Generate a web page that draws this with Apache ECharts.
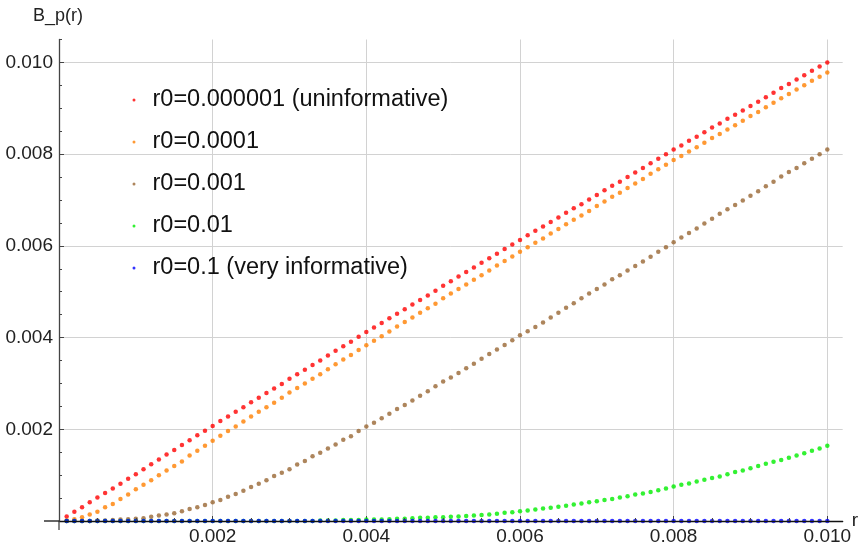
<!DOCTYPE html>
<html>
<head>
<meta charset="utf-8">
<script src="https://cdn.jsdelivr.net/npm/echarts@6/dist/echarts.min.js"></script>
<style>html,body{margin:0;padding:0;background:#fff}#c{width:861px;height:546px}</style>
</head>
<body>
<div id="c"></div>
<script>
const seriesNames = ['r0=0.000001 (uninformative)', 'r0=0.0001', 'r0=0.001', 'r0=0.01', 'r0=0.1 (very informative)'];
const xTickLabels = [0.002, 0.004, 0.006, 0.008, 0.010];
const yTickLabels = [0.002, 0.004, 0.006, 0.008, 0.010];
const xMinorTicks = [0.0005,0.001,0.0015,0.0025,0.003,0.0035,0.0045,0.005,0.0055,0.0065,0.007,0.0075,0.0085,0.009,0.0095];
const yMinorTicks = [0.0005,0.001,0.0015,0.0025,0.003,0.0035,0.0045,0.005,0.0055,0.0065,0.007,0.0075,0.0085,0.009,0.0095,0.0105];

const rValues = [
0.0001,0.0002,0.0003,0.0004,0.0005,0.0006,0.0007,0.0008,0.0009,0.0010,
0.0011,0.0012,0.0013,0.0014,0.0015,0.0016,0.0017,0.0018,0.0019,0.0020,
0.0021,0.0022,0.0023,0.0024,0.0025,0.0026,0.0027,0.0028,0.0029,0.0030,
0.0031,0.0032,0.0033,0.0034,0.0035,0.0036,0.0037,0.0038,0.0039,0.0040,
0.0041,0.0042,0.0043,0.0044,0.0045,0.0046,0.0047,0.0048,0.0049,0.0050,
0.0051,0.0052,0.0053,0.0054,0.0055,0.0056,0.0057,0.0058,0.0059,0.0060,
0.0061,0.0062,0.0063,0.0064,0.0065,0.0066,0.0067,0.0068,0.0069,0.0070,
0.0071,0.0072,0.0073,0.0074,0.0075,0.0076,0.0077,0.0078,0.0079,0.0080,
0.0081,0.0082,0.0083,0.0084,0.0085,0.0086,0.0087,0.0088,0.0089,0.0090,
0.0091,0.0092,0.0093,0.0094,0.0095,0.0096,0.0097,0.0098,0.0099,0.0100];

const redValues = [
0.0001,0.0002,0.0003,0.00041,0.00051,0.00061,0.00071,0.00081,0.00092,0.00102,
0.00113,0.00124,0.00134,0.00145,0.00155,0.00166,0.00176,0.00187,0.00197,0.00207,
0.00218,0.00228,0.00238,0.00248,0.00259,0.00269,0.00279,0.00289,0.00299,0.0031,
0.0032,0.0033,0.0034,0.0035,0.00361,0.00371,0.00381,0.00391,0.00402,0.00412,
0.00422,0.00432,0.00442,0.00452,0.00462,0.00472,0.00482,0.00492,0.00502,0.00513,
0.00523,0.00533,0.00543,0.00553,0.00563,0.00573,0.00583,0.00593,0.00603,0.00613,
0.00623,0.00633,0.00642,0.00652,0.00662,0.00672,0.00682,0.00691,0.00701,0.00711,
0.00721,0.00731,0.0074,0.0075,0.0076,0.0077,0.0078,0.0079,0.008,0.0081,
0.00819,0.00829,0.00838,0.00848,0.00858,0.00867,0.00877,0.00886,0.00895,0.00905,
0.00914,0.00924,0.00934,0.00944,0.00953,0.00963,0.00972,0.00982,0.00991,0.01];

const orangeValues = [
0.00001,0.00004,0.00008,0.00014,0.0002,0.0003,0.00037,0.00048,0.00058,0.00069,
0.00079,0.00089,0.001,0.0011,0.0012,0.0013,0.00143,0.00153,0.00164,0.00175,
0.00186,0.00196,0.00206,0.00217,0.00228,0.00238,0.00248,0.00258,0.00269,0.0028,
0.0029,0.003,0.0031,0.0032,0.00331,0.00342,0.00352,0.00362,0.00373,0.00383,
0.00393,0.00403,0.00413,0.00424,0.00434,0.00444,0.00454,0.00464,0.00474,0.00486,
0.00496,0.00506,0.00516,0.00526,0.00536,0.00546,0.00557,0.00567,0.00577,0.00587,
0.00597,0.00607,0.00616,0.00627,0.00637,0.00647,0.00657,0.00666,0.00676,0.00687,
0.00697,0.00707,0.00716,0.00726,0.00736,0.00746,0.00757,0.00767,0.00777,0.00787,
0.00796,0.00806,0.00815,0.00825,0.00835,0.00844,0.00854,0.00863,0.00873,0.00883,
0.00892,0.00902,0.00912,0.00922,0.00931,0.00941,0.0095,0.0096,0.00969,0.00978];

const brownValues = [
0,0,0,0,0.00001,0.00001,0.00002,0.00003,0.00004,0.00005,
0.00006,0.00009,0.00012,0.00014,0.00017,0.00021,0.00026,0.0003,0.00035,0.00041,
0.00046,0.00053,0.00059,0.00066,0.00074,0.00081,0.00089,0.00098,0.00105,0.00113,
0.00123,0.00131,0.00141,0.00149,0.00158,0.00167,0.00177,0.00185,0.00196,0.00206,
0.00214,0.00224,0.00234,0.00244,0.00253,0.00263,0.00273,0.00283,0.00294,0.00304,
0.00313,0.00323,0.00333,0.00343,0.00354,0.00364,0.00374,0.00384,0.00394,0.00405,
0.00414,0.00423,0.00433,0.00444,0.00454,0.00465,0.00475,0.00486,0.00496,0.00506,
0.00516,0.00527,0.00536,0.00546,0.00556,0.00566,0.00576,0.00587,0.00597,0.00608,
0.00618,0.00628,0.00638,0.00649,0.00659,0.0067,0.0068,0.00689,0.00699,0.00709,
0.00719,0.0073,0.0074,0.00751,0.00761,0.0077,0.0078,0.0079,0.008,0.0081];

const greenValues = [
0,0,0,0,0,0,0,0,0,0,
0,0,0,0,0,0,0,0,0,0,
0,0,0,0,0,0,0,0,0,0,
0,0,0,0.00001,0.00001,0.00001,0.00002,0.00002,0.00002,0.00003,
0.00003,0.00003,0.00004,0.00005,0.00005,0.00006,0.00007,0.00007,0.00008,0.00008,
0.00009,0.0001,0.00011,0.00012,0.00013,0.00014,0.00016,0.00018,0.00019,0.00021,
0.00023,0.00025,0.00027,0.00029,0.00031,0.00033,0.00036,0.00038,0.00041,0.00043,
0.00046,0.00048,0.00051,0.00054,0.00058,0.0006,0.00063,0.00067,0.00071,0.00075,
0.00079,0.00082,0.00086,0.0009,0.00094,0.00097,0.00102,0.00107,0.0011,0.00115,
0.0012,0.00125,0.00129,0.00133,0.00138,0.00143,0.00148,0.00153,0.00158,0.00164];

const blueValues = [
0,0,0,0,0,0,0,0,0,0,
0,0,0,0,0,0,0,0,0,0,
0,0,0,0,0,0,0,0,0,0,
0,0,0,0,0,0,0,0,0,0,
0,0,0,0,0,0,0,0,0,0,
0,0,0,0,0,0,0,0,0,0,
0,0,0,0,0,0,0,0,0,0,
0,0,0,0,0,0,0,0,0,0,
0,0,0,0,0,0,0,0,0,0,
0,0,0,0,0,0,0,0,0,0];

const colors = ['#ff0000', '#ff8000', '#996633', '#00ee00', '#0000ff'];
const allValues = [redValues, orangeValues, brownValues, greenValues, blueValues];

const FONT = '"Liberation Sans", Arial, sans-serif';
const chart = echarts.init(document.getElementById('c'), null, {renderer: 'canvas'});

const fmt = v => (Math.abs(v) < 1e-12 ? '' : v.toFixed(3));

const option = {
  animation: false,
  backgroundColor: '#ffffff',
  grid: {left: 59, right: 16.6, top: 39.5, bottom: 23, containLabel: false},
  legend: {
    orient: 'vertical',
    left: 127.5,
    top: 83,
    icon: 'circle',
    itemWidth: 27,
    itemHeight: 3,
    itemGap: 18,
    data: seriesNames,
    textStyle: {fontFamily: FONT, fontSize: 23.5, color: '#111', lineHeight: 24},
    selectedMode: false
  },
  xAxis: [
    {
      type: 'value', min: 0, max: 0.0102, interval: 0.002, position: 'bottom',
      axisLine: {show: false, onZero: false},
      axisTick: {show: true, inside: true, length: 5, lineStyle: {color: '#444'}, customValues: xTickLabels},
      axisLabel: {show: true, margin: 6, fontFamily: FONT, fontSize: 19, color: '#222', formatter: fmt,
                  customValues: xTickLabels},
      splitLine: {show: true, lineStyle: {color: '#d2d2d2', width: 1}},
      z: 0
    },
    {
      type: 'value', min: 0, max: 0.0102, interval: 0.0005, position: 'bottom',
      name: 'r', nameLocation: 'end', nameGap: 9,
      nameTextStyle: {fontFamily: FONT, fontSize: 19, color: '#222'},
      axisLine: {show: true, onZero: false, lineStyle: {color: '#111', width: 1.3}},
      axisTick: {show: true, inside: true, length: 3, lineStyle: {color: '#444'}, customValues: xMinorTicks},
      axisLabel: {show: false},
      splitLine: {show: false},
      z: 10
    }
  ],
  yAxis: [
    {
      type: 'value', min: 0, max: 0.0105, interval: 0.002, position: 'left',
      axisLine: {show: false, onZero: false},
      axisTick: {show: true, inside: true, length: 5, lineStyle: {color: '#444'}, customValues: yTickLabels},
      axisLabel: {show: true, margin: 6, fontFamily: FONT, fontSize: 19, color: '#222', formatter: fmt,
                  customValues: yTickLabels},
      splitLine: {show: true, lineStyle: {color: '#d2d2d2', width: 1}},
      z: 0
    },
    {
      type: 'value', min: 0, max: 0.0105, interval: 0.0005, position: 'left',
      axisLine: {show: true, onZero: false, lineStyle: {color: '#444', width: 1.3}},
      axisTick: {show: true, inside: true, length: 3, lineStyle: {color: '#444'}, customValues: yMinorTicks},
      axisLabel: {show: false},
      splitLine: {show: false},
      z: 10
    }
  ],
  series: seriesNames.map((name, k) => ({
    name: name,
    type: 'scatter',
    xAxisIndex: 0,
    yAxisIndex: 0,
    symbol: 'circle',
    symbolSize: 4.5,
    itemStyle: {color: colors[k]},
    z: 2 + k * 0.01,
    data: rValues.map((x, i) => [x, allValues[k][i]])
  }))
};
chart.setOption(option);

// extend axis lines slightly past the origin, as in the reference
const p0 = chart.convertToPixel({xAxisIndex: 0, yAxisIndex: 0}, [0, 0]);
chart.setOption({
  graphic: [
    {type: 'text', left: 33, top: 7, style: {text: 'B_p(r)', font: '18px ' + FONT, fill: '#222'}},
    {type: 'line', z: 20, shape: {x1: p0[0] - 15, y1: p0[1], x2: p0[0], y2: p0[1]}, style: {stroke: '#111', lineWidth: 1.3}},
    {type: 'line', z: 20, shape: {x1: p0[0], y1: p0[1], x2: p0[0], y2: p0[1] + 9}, style: {stroke: '#444', lineWidth: 1.3}}
  ]
});
</script>
</body>
</html>
